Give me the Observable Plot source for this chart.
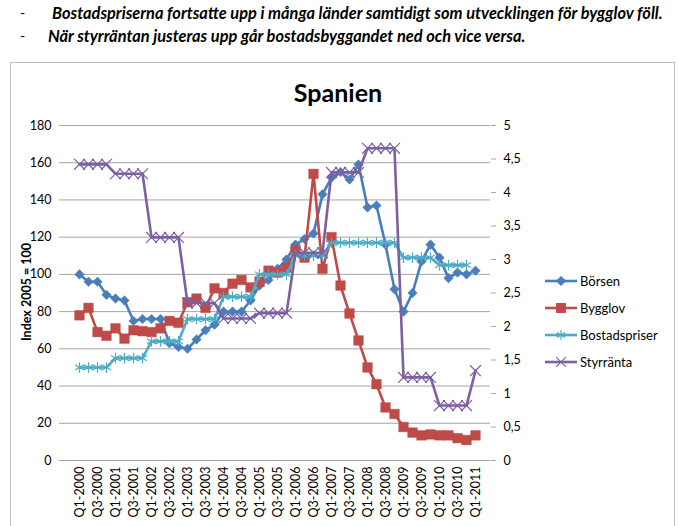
<!DOCTYPE html>
<html>
<head>
<meta charset="utf-8">
<script src="https://cdn.jsdelivr.net/npm/d3@7"></script>
<script src="https://cdn.jsdelivr.net/npm/@observablehq/plot@0.6"></script>
<style>
  html, body { margin: 0; padding: 0; background: #fff; }
  #wrap { position: relative; width: 678px; height: 526px; overflow: hidden; font-family: Lato, "Open Sans", sans-serif; }
  .note { position: absolute; font-weight: bold; font-style: italic; font-size: 16.4px; color: #000; white-space: nowrap; line-height: 20px; }
  .dash { position: absolute; font-size: 14px; color: #000; line-height: 20px; }
  #frame { position: absolute; left: 10px; top: 62px; width: 665px; height: 480px; border: 1px solid #bfbfbf; box-sizing: border-box; }
  #title { position: absolute; left: 238px; width: 200px; top: 77px; text-align: center; font-weight: bold; font-size: 25px; color: #000; }
  #ytitle { position: absolute; left: 26px; top: 292px; transform: translate(-50%, -50%) rotate(-90deg); font-weight: bold; font-size: 12.5px; white-space: nowrap; color: #000; }
  #legend { position: absolute; left: 545px; top: 267px; font-size: 13px; color: #000; }
  .li { height: 27px; display: flex; align-items: center; }
  .li svg { margin-right: 2px; }
  #chart { position: absolute; left: 0; top: 0; }
</style>
</head>
<body>
<div id="wrap">
  <div class="dash" style="left:20px;top:3px">-</div>
  <div class="note" id="n1" style="left:52px;top:3px">Bostadspriserna fortsatte upp i många länder samtidigt som utvecklingen för bygglov föll.</div>
  <div class="dash" style="left:20px;top:26px">-</div>
  <div class="note" id="n2" style="left:48px;top:26px">När styrräntan justeras upp går bostadsbyggandet ned och vice versa.</div>
  <div id="frame"></div>
  <div id="title">Spanien</div>
  <div id="ytitle">Index 2005 = 100</div>
  <div id="chart"></div>
  <div id="legend"></div>
</div>
<script>
const quarters = [
  "Q1-2000","Q2-2000","Q3-2000","Q4-2000",
  "Q1-2001","Q2-2001","Q3-2001","Q4-2001",
  "Q1-2002","Q2-2002","Q3-2002","Q4-2002",
  "Q1-2003","Q2-2003","Q3-2003","Q4-2003",
  "Q1-2004","Q2-2004","Q3-2004","Q4-2004",
  "Q1-2005","Q2-2005","Q3-2005","Q4-2005",
  "Q1-2006","Q2-2006","Q3-2006","Q4-2006",
  "Q1-2007","Q2-2007","Q3-2007","Q4-2007",
  "Q1-2008","Q2-2008","Q3-2008","Q4-2008",
  "Q1-2009","Q2-2009","Q3-2009","Q4-2009",
  "Q1-2010","Q2-2010","Q3-2010","Q4-2010",
  "Q1-2011"
];
const tickLabels = quarters.filter(q => q.startsWith("Q1") || q.startsWith("Q3"));

const borsen = [100,96,96,89,87,86,75,76,76,76,63,61,60,65,70,73,80,80,80,86,94,97,103,108,116,119,122,143,152,155,151,159,136,137,116,92,80,90,107,116,109,98,101,100,102];
const bygglov = [78,82,69,67,71,65.5,70,69.5,69,71,75,74,85,87,82,92.5,90,95,97,93,96,102,101,103.5,113,109,154,103,120,94,79,64.5,50,41,28.5,25,18,15,13.5,14,13.5,13.5,12,11,13.5];
const bostadspriser = [50,50,50,50,55,55,55,55,64,64,64,64,76,76,76,76,88,88,88,88,100,100,100,100,110,110,110,110,117,117,117,117,117,117,117,117,109,109,109,109,105,105,105,105,null];
const styrranta = [4.42,4.42,4.42,4.42,4.28,4.28,4.28,4.28,3.33,3.33,3.33,3.33,2.35,2.35,2.35,2.35,2.12,2.12,2.12,2.12,2.2,2.2,2.2,2.2,3.1,3.1,3.1,3.1,4.3,4.3,4.3,4.3,4.66,4.66,4.66,4.66,1.24,1.24,1.24,1.24,0.82,0.82,0.82,0.82,1.34];

const leftTicks = [0,20,40,60,80,100,120,140,160,180];
const rightTicks = [0,0.5,1,1.5,2,2.5,3,3.5,4,4.5,5];
const RATIO = 180 / 5;

const series = [
  {name: "Börsen", values: borsen, scale: 1, color: "#4a7ebb", symbol: "diamond2", r: 4.3, fill: true, sw: 2.6},
  {name: "Bygglov", values: bygglov, scale: 1, color: "#be4b48", symbol: "square", r: 5.4, fill: true, sw: 2.6},
  {name: "Bostadspriser", values: bostadspriser, scale: 1, color: "#4bacc6", symbol: "asterisk", r: 5, fill: false, sw: 2.6},
  {name: "Styrränta", values: styrranta, scale: RATIO, color: "#7d60a0", symbol: "times", r: 5, fill: false, sw: 2.6}
];

const marks = [
  Plot.gridY(leftTicks, {stroke: "#a6a6a6", strokeOpacity: 1, strokeWidth: 1}),
  Plot.axisY(leftTicks, {anchor: "left", tickSize: 4, tickPadding: 8, label: null, line: true, stroke: "#a6a6a6", fontSize: 12.5}),
  Plot.axisY(rightTicks.map(v => v * RATIO), {anchor: "right", tickSize: 5, tickPadding: 8, label: null, line: true, stroke: "#a6a6a6", fontSize: 12.5,
    tickFormat: d => String(+(d / RATIO).toFixed(1)).replace(".", ",")}),
  Plot.axisX(tickLabels, {anchor: "bottom", tickSize: 0, tickPadding: 6, tickRotate: -90, label: null, line: true, stroke: "#a6a6a6", fontSize: 12.5})
];

for (const s of series) {
  const rows = quarters.map((q, i) => ({q, v: s.values[i] == null ? null : s.values[i] * s.scale})).filter(d => d.v != null);
  marks.push(Plot.line(rows, {x: "q", y: "v", stroke: s.color, strokeWidth: s.sw}));
  marks.push(Plot.dot(rows, {x: "q", y: "v", symbol: () => s.symbol, r: s.r,
    fill: s.fill ? s.color : "none", stroke: s.color, strokeWidth: s.fill ? 0.5 : 1.2}));
}

const chart = Plot.plot({
  width: 678,
  height: 526,
  marginTop: 125,
  marginBottom: 66,
  marginLeft: 63,
  marginRight: 188,
  style: {fontFamily: "Lato, 'Open Sans', sans-serif", fontSize: "12.5px", color: "#000", background: "transparent", overflow: "visible"},
  x: {type: "point", domain: quarters, padding: 0.5, align: 0.5},
  y: {domain: [0, 180]},
  symbol: {type: "identity"},
  marks
});
document.getElementById("chart").appendChild(chart);

// legend
const leg = document.getElementById("legend");
for (const s of series) {
  const row = document.createElement("div");
  row.className = "li";
  const sym = d3.symbol(
    s.symbol === "diamond2" ? d3.symbolDiamond2 : s.symbol === "square" ? d3.symbolSquare : s.symbol === "asterisk" ? d3.symbolAsterisk : d3.symbolTimes,
    Math.PI * s.r * s.r * 0.8)();
  row.innerHTML = `<svg width="33" height="14"><line x1="0" x2="32" y1="7" y2="7" stroke="${s.color}" stroke-width="2.6"/>` +
    `<path transform="translate(16,7)" d="${sym}" fill="${s.fill ? s.color : "none"}" stroke="${s.color}" stroke-width="1.2"/></svg><span>${s.name}</span>`;
  leg.appendChild(row);
}
</script>
</body>
</html>
